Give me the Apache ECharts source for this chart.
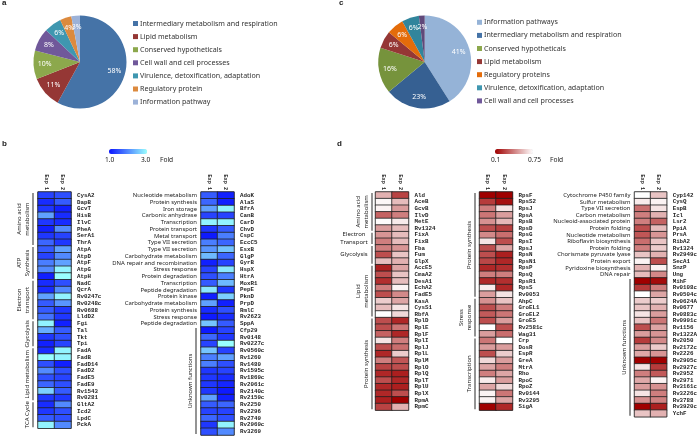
<!DOCTYPE html>
<html lang="en">
<head>
    <meta charset="UTF-8">
    <title>Proteomics fold change</title>
    <script src="https://cdn.jsdelivr.net/npm/echarts@6/dist/echarts.min.js"></script>
    <style>html,body{margin:0;padding:0;background:#fff;}</style>
</head>
<body>
<div id="main" style="width:700px;height:438px;"></div>
<script>
    // pie a
    var pieNamesA = ['Intermediary metabolism and respiration','Lipid metabolism','Conserved hypotheticals','Cell wall and cell processes','Virulence, detoxification, adaptation','Regulatory protein','Information pathway'];
    var pieValuesA = [58,11,10,8,6,4,3];
    var pieColorsA = ['#4573a7','#953735','#8ca84c','#70589a','#3f97b0','#dc8a3e','#9cb2d8'];
    // pie c
    var pieNamesC = ['Information pathways','Intermediary metabolism and respiration','Conserved hypotheticals','Lipid metabolism','Regulatory proteins','Virulence, detoxification, adaptation','Cell wall and cell processes'];
    var pieValuesC = [41,23,16,6,6,6,2];
    var pieColorsC = ['#95b3d7','#366092','#76933c','#953735','#e46c0a','#31859c','#60497a'];

    var expNames = ['Exp 1','Exp 2'];

    // heatmap b, left
    var genesB1 = ['CysA2','DapB','GcvT','HisB','IlvC','PheA','SerA1','ThrA','AtpA','AtpD','AtpF','AtpG','AtpH','NadC','QcrA','Rv0247c','Rv0248c','Rv0688','LldD2','Fgi','Tal','Tkt','Tpi','FadA','FadB','FadD14','FadD2','FadE5','FadE9','Rv1543','Rv0281','GltA2','Icd2','LpdC','PckA'];
    var exp1B1 = [1.4,1.2,1.3,2.2,1.3,1.1,1.3,1.7,1.6,1.4,1.9,2.0,1.1,1.2,1.2,2.2,1.6,1.6,1.8,2.9,2.3,1.3,1.1,1.2,3.0,1.5,2.0,1.5,1.7,2.6,1.3,1.2,1.3,1.6,2.9];
    var exp2B1 = [1.5,1.6,1.1,1.2,1.2,2.0,1.4,1.3,2.2,2.0,2.2,2.9,3.0,1.5,2.0,2.9,2.1,1.3,1.3,1.1,1.6,1.5,1.4,2.9,2.9,1.1,1.5,1.4,1.5,1.6,1.3,2.0,1.5,1.5,2.0];
    var groupsB1 = [['Amino acid\nmetabolism',0,7],['ATP\nSynthesis',8,12],['Electron\ntransport',13,18],['Glycolysis',19,22],['Lipid metabolism',23,30],['TCA Cycle',31,34]];

    // heatmap b, right
    var genesB2 = ['AdoK','AlaS','BfrA','CanB','CarD','ChvD','CspC','EccC5','EsxB','GlgP','GyrB','HspX','HtrA','MoxR1','PepE','PknD','PrpD','RmlC','Rv2623','SppA','Cfp29','Rv0148','Rv0227c','Rv0560c','Rv1260','Rv1480','Rv1595c','Rv1869c','Rv2061c','Rv2140c','Rv2159c','Rv2250','Rv2296','Rv2749','Rv2969c','Rv3269'];
    var funcsB2 = ['Nucleotide metabolism','Protein synthesis','Iron storage','Carbonic anhydrase','Transcription','Protein transport','Metal transport','Type VII secretion','Type VII secretion','Carbohydrate metabolism','DNA repair and recombination','Stress response','Protein degradation','Transcription','Peptide degradation','Protein kinase','Carbohydrate metabolism','Protein synthesis','Stress response','Peptide degradation'];
    var exp1B2 = [1.6,1.7,2.2,1.4,2.9,1.3,1.05,1.9,2.1,2.4,1.1,1.4,1.5,1.6,2.8,1.1,2.2,1.2,1.05,2.5,1.05,1.7,1.4,2.5,1.9,1.9,1.3,1.3,1.3,1.3,2.2,1.6,1.4,1.7,1.3,1.5];
    var exp2B2 = [1.1,1.1,2.9,1.4,2.9,1.6,1.9,1.7,2.5,1.7,1.4,2.8,1.9,2.4,1.3,2.6,1.1,1.5,1.2,1.6,1.4,1.3,3.0,1.4,2.2,1.5,1.4,1.2,1.15,1.05,1.1,1.7,1.4,1.5,2.9,2.0];
    var groupsB2 = [['Unknown functions',20,35]];

    // heatmap d, first
    var genesD1 = ['Ald','AceB','GcvB','IlvD','MetE','Rv1324','FixA','FixB','Fba','Fum','GlpX','AccE5','CmaA2','DesA1','EchA2','FadE5','KasA','CysS1','RbfA','RplD','RplE','RplF','RplI','RplJ','RplL','RplM','RplO','RplQ','RplT','RplU','RplX','RpmA','RpmC'];
    var exp1D1 = [.55,.73,.72,.35,.74,.5,.48,.42,.42,.3,.58,.18,.3,.22,.42,.3,.62,.58,.75,.3,.3,.35,.68,.3,.2,.42,.27,.2,.3,.2,.2,.18,.27];
    var exp2D1 = [.27,.58,.5,.42,.7,.58,.58,.58,.48,.6,.55,.52,.6,.58,.72,.45,.52,.68,.65,.2,.4,.2,.42,.38,.62,.32,.3,.18,.2,.18,.3,.1,.55];
    var groupsD1 = [['Amino acid\nmetabolism',0,5],['Electron\nTransport',6,7,'h'],['Glycolysis',8,10,'h'],['Lipid\nmetabolism',11,18],['Protein synthesis',19,32]];

    // heatmap d, second
    var genesD2 = ['RpsF','RpsS2','RpsJ','RpsA','RpsB','RpsD','RpsG','RpsI','RpsJ','RpsN','RpsN1','RpsP','RpsQ','RpsR1','RpsS','Rv0053','AhpC','GroEL1','GroEL2','GroES','Rv2581c','Wag31','Crp','DosR','EspR','GreA','MtrA','Rho','RpoC','RpoZ','Rv0144','Rv3295','SigA'];
    var exp1D2 = [.1,.25,.42,.4,.47,.3,.45,.68,.3,.3,.28,.2,.42,.2,.7,.5,.47,.3,.33,.3,.75,.5,.4,.5,.3,.65,.52,.42,.7,.52,.72,.72,.1];
    var exp2D2 = [.1,.14,.68,.5,.57,.26,.38,.3,.52,.18,.2,.22,.42,.22,.2,.68,.6,.42,.4,.5,.3,.38,.75,.5,.62,.5,.42,.52,.5,.65,.4,.52,.2];
    var groupsD2 = [['Protein synthesis',0,15],['Stress\nresponse',16,21],['Transcription',22,32]];

    // heatmap d, third
    var genesD3 = ['Cyp142','CysQ','EspB','Icl','Lsr2','PpiA','PrsA','RibA2','Rv1324','Rv2949c','SecA1','SnzP','Ung','MihF','Rv0108c','Rv0504c','Rv0624A','Rv0677','Rv0883c','Rv0991c','Rv1156','Rv1322A','Rv2050','Rv2172c','Rv2226','Rv2905c','Rv2927c','Rv2952','Rv2971','Rv3161c','Rv3226c','Rv3788','Rv3920c','YchF'];
    var funcsD3 = ['Cytochrome P450 family','Sulfur metabolism','Type VII secretion','Carbon metabolism','Nucleoid-associated protein','Protein folding','Nucleotide metabolism','Riboflavin biosynthesis','Protein folding','Chorismate pyruvate lyase','Protein export','Pyridoxine biosynthesis','DNA repair'];
    var exp1D3 = [.75,.7,.38,.42,.42,.3,.32,.38,.42,.6,.72,.55,.58,.1,.25,.75,.62,.6,.68,.6,.3,.5,.25,.5,.53,.1,.68,.42,.53,.5,.68,.47,.1,.6];
    var exp2D3 = [.6,.72,.68,.55,.35,.58,.48,.6,.62,.55,.3,.72,.45,.13,.42,.52,.62,.55,.5,.4,.52,.48,.45,.62,.48,.1,.25,.33,.72,.47,.42,.43,.18,.55];
    var groupsD3 = [['Unknown functions',13,33]];

    var labelFont = '"Noto Sans"';
    var ROW_B = 6.75, ROW_D = 6.61;
    var panels = [
        {genes:genesB1, funcs:[], e1:exp1B1, e2:exp2B1, groups:groupsB1, left:38, width:33, row:ROW_B, barX:33},
        {genes:genesB2, funcs:funcsB2, e1:exp1B2, e2:exp2B2, groups:groupsB2, left:201, width:33, row:ROW_B, barX:196},
        {genes:genesD1, funcs:[], e1:exp1D1, e2:exp2D1, groups:groupsD1, left:375.5, width:33, row:ROW_D, barX:372},
        {genes:genesD2, funcs:[], e1:exp1D2, e2:exp2D2, groups:groupsD2, left:479.5, width:33, row:ROW_D, barX:475},
        {genes:genesD3, funcs:funcsD3, e1:exp1D3, e2:exp2D3, groups:groupsD3, left:634.5, width:33, row:ROW_D, barX:630}
    ];
    var GRID_TOP = 192;

    var grids = [], xAxes = [], yAxes = [], series = [], graphics = [];

    panels.forEach(function(p, i){
        grids.push({left:p.left, top:GRID_TOP, width:p.width, height:p.row * p.genes.length,
            show:true, borderColor:'#8a8a8a', borderWidth:1, backgroundColor:'transparent'});
        xAxes.push({type:'category', gridIndex:i, position:'top', data:expNames,
            axisLine:{show:false}, axisTick:{show:false}, splitLine:{show:false},
            axisLabel:{rotate:90, margin:2, fontSize:5.2, fontFamily:'Liberation Mono', fontWeight:'bold', color:'#222'}});
        // genes on the right of the cells
        yAxes.push({type:'category', gridIndex:i, position:'right', inverse:true, data:p.genes,
            axisLine:{show:false}, axisTick:{show:false}, splitLine:{show:false},
            axisLabel:{interval:0, margin:6, fontSize:5.8, fontFamily:'Liberation Mono', fontWeight:'bold', color:'#222'}});
        // functions on the left, only where the picture has them
        var funcRows = p.genes.map(function(g, k){ return p.funcs[k] || ''; });
        yAxes.push({type:'category', gridIndex:i, position:'left', inverse:true, data:funcRows.map(function(f, k){ return {value:k + ':' + f}; }),
            axisLine:{show:false}, axisTick:{show:false}, splitLine:{show:false},
            axisLabel:{interval:0, margin:4, fontSize:5.9, fontFamily:labelFont, color:'#222',
                formatter:function(v){ return v.slice(v.indexOf(':') + 1); }}});
        var cells = [];
        p.genes.forEach(function(g, k){
            cells.push([0, k, p.e1[k]]);
            cells.push([1, k, p.e2[k]]);
        });
        series.push({type:'heatmap', xAxisIndex:i, yAxisIndex:i * 2, data:cells, silent:true,
            itemStyle:{borderColor:'#1f1f1f', borderWidth:0.8}});
        // group brackets and their rotated names
        p.groups.forEach(function(g){
            var y0 = GRID_TOP + g[1] * p.row + 1, y1 = GRID_TOP + (g[2] + 1) * p.row - 1;
            graphics.push({type:'line', shape:{x1:p.barX, y1:y0, x2:p.barX, y2:y1}, style:{stroke:'#666', lineWidth:1.4}});
            var two = g[0].indexOf('\n') >= 0;
            if (g[3] === 'h') {
                graphics.push({type:'text', x:p.barX - 18, y:(y0 + y1) / 2,
                    style:{text:g[0], fill:'#222', font:'6px ' + labelFont, textAlign:'center', textVerticalAlign:'middle', lineHeight:8}});
            } else {
                graphics.push({type:'text', x:p.barX - (two ? 10 : 6), y:(y0 + y1) / 2, rotation:Math.PI / 2,
                    style:{text:g[0], fill:'#222', font:'6px ' + labelFont, textAlign:'center', textVerticalAlign:'middle', lineHeight:8}});
            }
        });
    });

    function smallText(txt, x, y, font) {
        graphics.push({type:'text', x:x, y:y, style:{text:txt, fill:'#222', font:font || '6.6px ' + labelFont, textAlign:'left', textVerticalAlign:'middle'}});
    }
    smallText('a', 2, 3, 'bold 8px "Liberation Sans"');
    smallText('b', 2, 144, 'bold 8px "Liberation Sans"');
    smallText('c', 339, 3, 'bold 8px "Liberation Sans"');
    smallText('d', 337, 144, 'bold 8px "Liberation Sans"');
    smallText('1.0', 105, 160);
    smallText('3.0', 141, 160);
    smallText('Fold', 160, 160);
    smallText('0.1', 491, 160);
    smallText('0.75', 528, 160);
    smallText('Fold', 550, 160);

    function pieSeries(names, values, colors, cx) {
        return {type:'pie', center:[cx, 62], radius:[0, 46.5], startAngle:90, clockwise:true, silent:true,
            data:names.map(function(n, k){ return {name:n, value:values[k], itemStyle:{color:colors[k]}}; }),
            label:{position:'inner', formatter:'{d}%', fontSize:7, fontFamily:labelFont, color:'#fff'},
            labelLine:{show:false},
            // labels sit further out than the library's mid-radius
            labelLayout:function(params){
                var r = params.labelRect;
                return {dx:(r.x + r.width / 2 - cx) * 0.35, dy:(r.y + r.height / 2 - 62) * 0.35};
            }};
    }
    series.push(pieSeries(pieNamesA, pieValuesA, pieColorsA, 80));
    series.push(pieSeries(pieNamesC, pieValuesC, pieColorsC, 424.7));

    function pieLegend(names, left, top) {
        return {left:left, top:top, padding:0, orient:'vertical', data:names, itemWidth:5, itemHeight:5, itemGap:6.1, icon:'rect', selectedMode:false,
            textStyle:{fontSize:7.1, fontFamily:labelFont, color:'#333', padding:[0,0,0,-3]}};
    }

    var myChart = echarts.init(document.getElementById('main'), null, {renderer:'canvas'});
    myChart.setOption({
        animation:false,
        backgroundColor:'#fff',
        grid:grids,
        xAxis:xAxes,
        yAxis:yAxes,
        legend:[pieLegend(pieNamesA, 133, 20), pieLegend(pieNamesC, 477, 18.8)],
        visualMap:[
            {type:'continuous', min:1, max:3, seriesIndex:[0,1], orient:'horizontal', left:109, top:149, padding:0, itemWidth:5, itemHeight:38,
                showLabel:false, calculable:false, inRange:{color:['#0a14ff','#99ffff']}},
            {type:'continuous', min:0.1, max:0.75, seriesIndex:[2,3,4], orient:'horizontal', left:495, top:149, padding:0, itemWidth:5, itemHeight:38,
                showLabel:false, calculable:false, inRange:{color:['#a00000','#ffffff']}}
        ],
        series:series,
        graphic:graphics
    });
</script>
</body>
</html>
